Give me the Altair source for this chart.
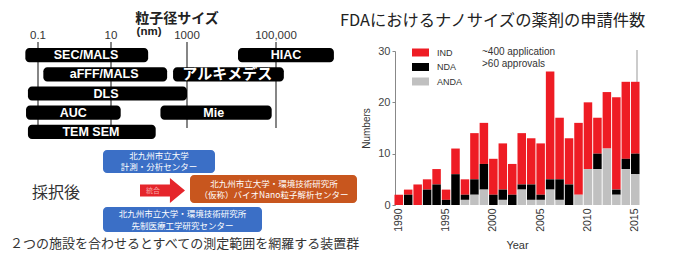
import altair as alt
import pandas as pd

# ---------------- left: measurable particle size range per method (nm) ----------------
methods = ["SEC/MALS", "HIAC", "aFFF/MALS", "アルキメデス", "DLS", "AUC", "Mie", "TEM SEM"]
method_rows = [1, 1, 2, 2, 3, 4, 4, 5]
size_min = [0.045, 14000, 0.14, 430, 0.053, 0.047, 200, 0.053]
size_max = [95, 2000000, 300, 150000, 1000, 18, 80000, 150]
size_ticks = [0.1, 10, 1000, 100000]
size_tick_labels = ["0.1", "10", "1000", "100,000"]

# ---------------- right: FDA nano drug applications per year ----------------
years = list(range(1990, 2016))
ind = [2, 1, 4, 2, 3, 2, 5, 3, 9, 8, 7, 9, 6, 10, 9, 10, 21, 12, 9, 14, 13, 7, 11, 18, 15, 14]
nda = [0, 2, 0, 3, 4, 1, 6, 1, 3, 5, 2, 2, 2, 1, 3, 1, 2, 4, 4, 0, 0, 3, 0, 1, 2, 4]
anda = [0, 0, 0, 0, 0, 0, 0, 1, 2, 3, 0, 1, 0, 3, 1, 1, 3, 1, 0, 2, 7, 7, 11, 2, 7, 6]
series = ["IND", "NDA", "ANDA"]
series_colors = ["#ee1c24", "#000000", "#c0c0c0"]
year_ticks = [1990, 1995, 2000, 2005, 2010, 2015]
count_ticks = [0, 10, 20, 30]

# ---------------- texts ----------------
left_title = "粒子径サイズ"
left_unit = "(nm)"
after_text = "採択後"
box1_text = ["北九州市立大学", "計測・分析センター"]
box2_text = ["北九州市立大学・環境技術研究所", "先制医療工学研究センター"]
box3_text = ["北九州市立大学・環境技術研究所", "（仮称）バイオNano粒子解析センター"]
arrow_text = "統合"
bottom_text = "２つの施設を合わせるとすべての測定範囲を網羅する装置群"
right_title = "FDAにおけるナノサイズの薬剤の申請件数"
note_lines = ["~400 application", ">60 approvals"]

JP = "Noto Sans CJK JP"
LAT = "Liberation Sans"

one = pd.DataFrame({"k": [0]})


def label(text, x, y, size, color="#333333", weight="normal", align="center", font=JP, lh=None):
    kw = {}
    if lh is not None:
        kw["lineHeight"] = lh
    return alt.Chart(one).mark_text(
        text=text, fontSize=size, color=color, fontWeight=weight, align=align,
        baseline="middle", font=font, **kw
    ).encode(x=alt.value(x), y=alt.value(y))


def box(x, x2, y, y2, color):
    return alt.Chart(one).mark_rect(color=color, cornerRadius=4).encode(
        x=alt.value(x), x2=alt.value(x2), y=alt.value(y), y2=alt.value(y2)
    )


# ---- left group ----
meth_df = pd.DataFrame({"method": methods, "row": method_rows, "lo": size_min, "hi": size_max})
tick_df = pd.DataFrame({"v": size_ticks, "lab": size_tick_labels})

xs = alt.Scale(type="log", domain=size_ticks, range=[30, 103, 179, 268], nice=False)
ys = alt.Scale(domain=[1, 2, 3, 4, 5], range=[40, 131], paddingInner=0.26, paddingOuter=0)

grid = alt.Chart(tick_df).mark_rule(color="#444444", strokeWidth=1.3).encode(
    x=alt.X("v:Q", scale=xs, axis=None),
    y=alt.value(34), y2=alt.value(120),
)
tick_text = alt.Chart(tick_df).mark_text(
    fontSize=11.5, color="#333333", font=LAT, baseline="middle"
).encode(x=alt.X("v:Q", scale=xs, axis=None), y=alt.value(28), text="lab:N")
mbars = alt.Chart(meth_df).mark_bar(color="black", cornerRadius=4).encode(
    x=alt.X("lo:Q", scale=xs, axis=None), x2="hi:Q",
    y=alt.Y("row:O", scale=ys, axis=None),
)
mtext_lat = alt.Chart(meth_df).transform_filter(
    "datum.method != 'アルキメデス'"
).transform_calculate(mid="sqrt(datum.lo * datum.hi)").mark_text(
    color="white", fontWeight="bold", fontSize=12.5, font=LAT
).encode(x=alt.X("mid:Q", scale=xs, axis=None), y=alt.Y("row:O", scale=ys, axis=None), text="method:N")
mtext_jp = alt.Chart(meth_df).transform_filter(
    "datum.method == 'アルキメデス'"
).transform_calculate(mid="sqrt(datum.lo * datum.hi)").mark_text(
    color="white", fontWeight="bold", fontSize=15, font=JP
).encode(x=alt.X("mid:Q", scale=xs, axis=None), y=alt.Y("row:O", scale=ys, axis=None), text="method:N")

ARROW = "M-1,-0.267L0.33,-0.267L0.33,-0.555L1,0L0.33,0.555L0.33,0.267L-1,0.267Z"
arrow = alt.Chart(one).mark_point(shape=ARROW, size=2025, filled=True, color="#e5252b",
                                  opacity=1, strokeWidth=0).encode(x=alt.value(154.5), y=alt.value(182.5))

left = alt.layer(
    grid, mbars, mtext_lat, mtext_jp, tick_text,
    label(left_title, 169, 10.5, 14, color="#222222", weight="bold"),
    label(left_unit, 141, 24, 11.5, color="#222222", weight="bold", font=LAT),
    label(after_text, 48, 185, 16),
    box(95, 207, 142, 165, "#3b6fc6"),
    label(box1_text, 151, 147.5, 8.5, color="white", lh=11.5),
    box(95, 254, 199, 224, "#3b6fc6"),
    label(box2_text, 174.5, 205.5, 8.5, color="white", lh=12),
    box(182, 349, 167, 195, "#c8561e"),
    label(box3_text, 266, 175.5, 8.5, color="white", lh=11.5),
    arrow,
    label(arrow_text, 145, 183, 7, color="#f7a6a6"),
    label(bottom_text, 2, 236, 13, align="left"),
)

# ---- right group ----
rows = []
for i, y in enumerate(years):
    for s, vals in zip(series, [ind, nda, anda]):
        rows.append({"year": y, "series": s, "value": vals[i]})
bar_df = pd.DataFrame(rows)

frame = alt.Chart(one).mark_rule(color="#999999", strokeWidth=1).encode(
    x=alt.value(629), y=alt.value(42), y2=alt.value(197)
)
SWATCH = "M-1,-0.47L1,-0.47L1,0.47L-1,0.47Z"
bars = alt.Chart(bar_df).transform_calculate(
    ord="indexof(['ANDA','NDA','IND'], datum.series)"
).mark_bar().encode(
    x=alt.X("year:O", scale=alt.Scale(range=[386, 632], paddingInner=0.1, paddingOuter=0.05),
            axis=alt.Axis(orient="bottom", offset=-46, values=year_ticks, labelAngle=-90,
                          labelFontSize=10.5, labelColor="#333333", labelFont=LAT, ticks=False,
                          labelPadding=3, domain=False, title="Year", titleFontSize=11,
                          titleFontWeight="normal", titleColor="#333333", titleFont=LAT,
                          titlePadding=8)),
    y=alt.Y("value:Q", stack=True, scale=alt.Scale(domain=[0, 30], range=[197, 43], nice=False),
            axis=alt.Axis(orient="left", offset=-387, values=count_ticks, tickSize=3,
                          tickColor="#888888", domainColor="#888888", labelFontSize=11,
                          labelColor="#444444", labelFont=LAT, grid=False, title="Numbers",
                          titleFontSize=10, titleFontWeight="normal", titleColor="#333333",
                          titleFont=LAT, titlePadding=6)),
    color=alt.Color("series:N", scale=alt.Scale(domain=series, range=series_colors),
                    legend=alt.Legend(orient="none", legendX=404, legendY=36, title=None,
                                      symbolType=SWATCH, symbolSize=289, symbolStrokeWidth=0,
                                      symbolOpacity=1, labelFontSize=9, labelFont=LAT,
                                      labelColor="#333333", labelOffset=8, rowPadding=0.5,
                                      padding=0)),
    order=alt.Order("ord:Q"),
)

right = alt.layer(
    frame, bars,
    label(right_title, 332, 12.5, 16.3, color="#222222", align="left"),
    label(note_lines[0], 474, 44, 10, color="#333333", align="left", font=LAT),
    label(note_lines[1], 474, 56, 10, color="#333333", align="left", font=LAT),
)

chart = alt.layer(left, right).resolve_scale(
    x="independent", y="independent"
).properties(
    width=658, height=243, autosize=alt.AutoSizeParams(type="none"), padding=0
).configure_view(stroke=None)

chart.save("out.html", embed_options={"renderer": "svg", "actions": False})
